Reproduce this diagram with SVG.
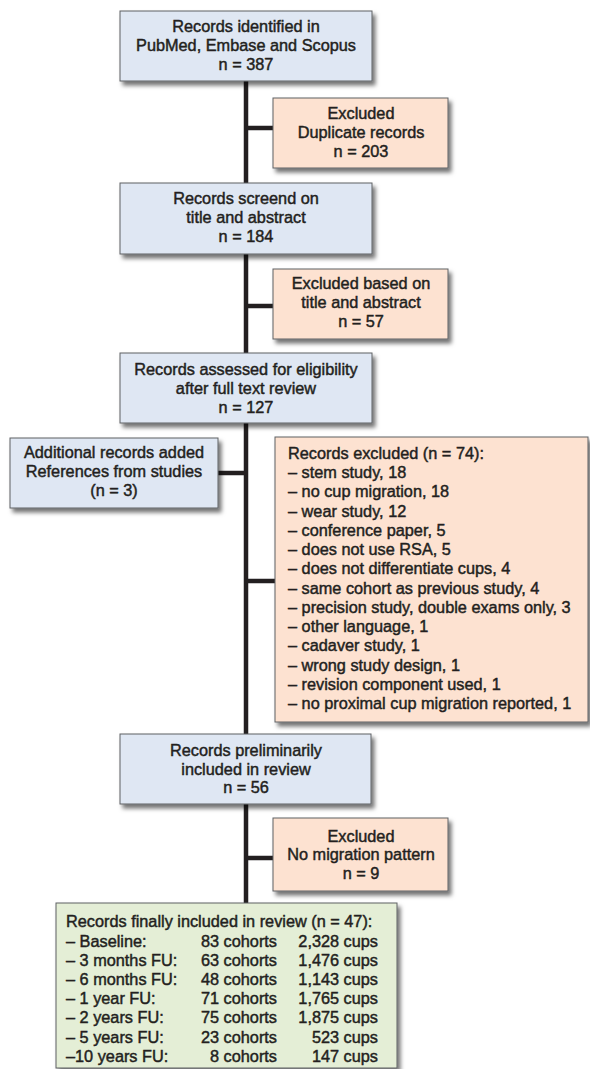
<svg xmlns="http://www.w3.org/2000/svg" width="590" height="1069" viewBox="0 0 590 1069">
<style>
text{font-family:"Liberation Sans",Arial,sans-serif;font-size:16.3px;fill:#231f20;stroke:#231f20;stroke-width:0.45px}
.c{text-anchor:middle}
.e{text-anchor:end}
.blue{fill:#dfe7f3;stroke:#5e6163;stroke-width:1}
.peach{fill:#fde2d1;stroke:#5e6163;stroke-width:1}
.green{fill:#e4eed6;stroke:#5e6163;stroke-width:1}
.ln{stroke:#231f20;stroke-width:4.5;fill:none}
</style>
<defs>
<filter id="sh" x="-10%" y="-10%" width="130%" height="130%">
<feDropShadow dx="3" dy="4" stdDeviation="2.2" flood-color="#000" flood-opacity="0.55"/>
</filter>
</defs>
<rect width="590" height="1069" fill="#fff"/>
<g id="connectors">
<line class="ln" x1="246" y1="81" x2="246" y2="903"/>
<line class="ln" x1="246" y1="128" x2="273" y2="128"/>
<line class="ln" x1="246" y1="306" x2="273" y2="306"/>
<line class="ln" x1="218" y1="473" x2="246" y2="473"/>
<line class="ln" x1="246" y1="581" x2="275" y2="581"/>
<line class="ln" x1="246" y1="858" x2="273" y2="858"/>
</g>
<g id="n1">
<rect class="blue" x="120" y="11" width="252" height="70" filter="url(#sh)"/>
<text class="c" x="246" y="32">Records identified in</text>
<text class="c" x="246" y="51">PubMed, Embase and Scopus</text>
<text class="c" x="246" y="70">n = 387</text>
</g>
<g id="x1">
<rect class="peach" x="273" y="98" width="175" height="70" filter="url(#sh)"/>
<text class="c" x="361" y="119">Excluded</text>
<text class="c" x="361" y="138">Duplicate records</text>
<text class="c" x="361" y="157">n = 203</text>
</g>
<g id="n2">
<rect class="blue" x="120" y="183" width="252" height="71" filter="url(#sh)"/>
<text class="c" x="246" y="204">Records screend on</text>
<text class="c" x="246" y="223">title and abstract</text>
<text class="c" x="246" y="242">n = 184</text>
</g>
<g id="x2">
<rect class="peach" x="273" y="269" width="175" height="70" filter="url(#sh)"/>
<text class="c" x="361" y="289">Excluded based on</text>
<text class="c" x="361" y="308">title and abstract</text>
<text class="c" x="361" y="327">n = 57</text>
</g>
<g id="n3">
<rect class="blue" x="120" y="353" width="252" height="70" filter="url(#sh)"/>
<text class="c" x="246" y="375">Records assessed for eligibility</text>
<text class="c" x="246" y="394">after full text review</text>
<text class="c" x="246" y="413">n = 127</text>
</g>
<g id="add">
<rect class="blue" x="10" y="438" width="208" height="70" filter="url(#sh)"/>
<text class="c" x="114" y="458">Additional records added</text>
<text class="c" x="114" y="477">References from studies</text>
<text class="c" x="114" y="496">(n = 3)</text>
</g>
<g id="x3">
<rect class="peach" x="275" y="437" width="313" height="285" filter="url(#sh)"/>
<text x="288" y="459">Records excluded (n = 74):</text>
<text x="288" y="478">– stem study, 18</text>
<text x="288" y="497">– no cup migration, 18</text>
<text x="288" y="516.5">– wear study, 12</text>
<text x="288" y="536">– conference paper, 5</text>
<text x="288" y="555">– does not use RSA, 5</text>
<text x="288" y="574">– does not differentiate cups, 4</text>
<text x="288" y="593.5">– same cohort as previous study, 4</text>
<text x="288" y="613">– precision study, double exams only, 3</text>
<text x="288" y="632">– other language, 1</text>
<text x="288" y="651">– cadaver study, 1</text>
<text x="288" y="670.5">– wrong study design, 1</text>
<text x="288" y="690">– revision component used, 1</text>
<text x="288" y="709">– no proximal cup migration reported, 1</text>
</g>
<g id="n4">
<rect class="blue" x="120" y="734" width="251" height="70" filter="url(#sh)"/>
<text class="c" x="246" y="756">Records preliminarily</text>
<text class="c" x="246" y="775">included in review</text>
<text class="c" x="246" y="793">n = 56</text>
</g>
<g id="x4">
<rect class="peach" x="273" y="818" width="175" height="73" filter="url(#sh)"/>
<text class="c" x="361" y="842">Excluded</text>
<text class="c" x="361" y="860">No migration pattern</text>
<text class="c" x="361" y="879">n = 9</text>
</g>
<g id="n5">
<rect class="green" x="56" y="903" width="341" height="165" filter="url(#sh)"/>
<text x="66" y="927">Records finally included in review (n = 47):</text>
<text x="66" y="946.5">– Baseline:</text>
<text class="e" x="277" y="946.5">83 cohorts</text>
<text class="e" x="378" y="946.5">2,328 cups</text>
<text x="66" y="965.5">– 3 months FU:</text>
<text class="e" x="277" y="965.5">63 cohorts</text>
<text class="e" x="378" y="965.5">1,476 cups</text>
<text x="66" y="985">– 6 months FU:</text>
<text class="e" x="277" y="985">48 cohorts</text>
<text class="e" x="378" y="985">1,143 cups</text>
<text x="66" y="1004">– 1 year FU:</text>
<text class="e" x="277" y="1004">71 cohorts</text>
<text class="e" x="378" y="1004">1,765 cups</text>
<text x="66" y="1023">– 2 years FU:</text>
<text class="e" x="277" y="1023">75 cohorts</text>
<text class="e" x="378" y="1023">1,875 cups</text>
<text x="66" y="1042.5">– 5 years FU:</text>
<text class="e" x="277" y="1042.5">23 cohorts</text>
<text class="e" x="378" y="1042.5">523 cups</text>
<text x="66" y="1061.5">–10 years FU:</text>
<text class="e" x="277" y="1061.5">8 cohorts</text>
<text class="e" x="378" y="1061.5">147 cups</text>
</g>
</svg>
